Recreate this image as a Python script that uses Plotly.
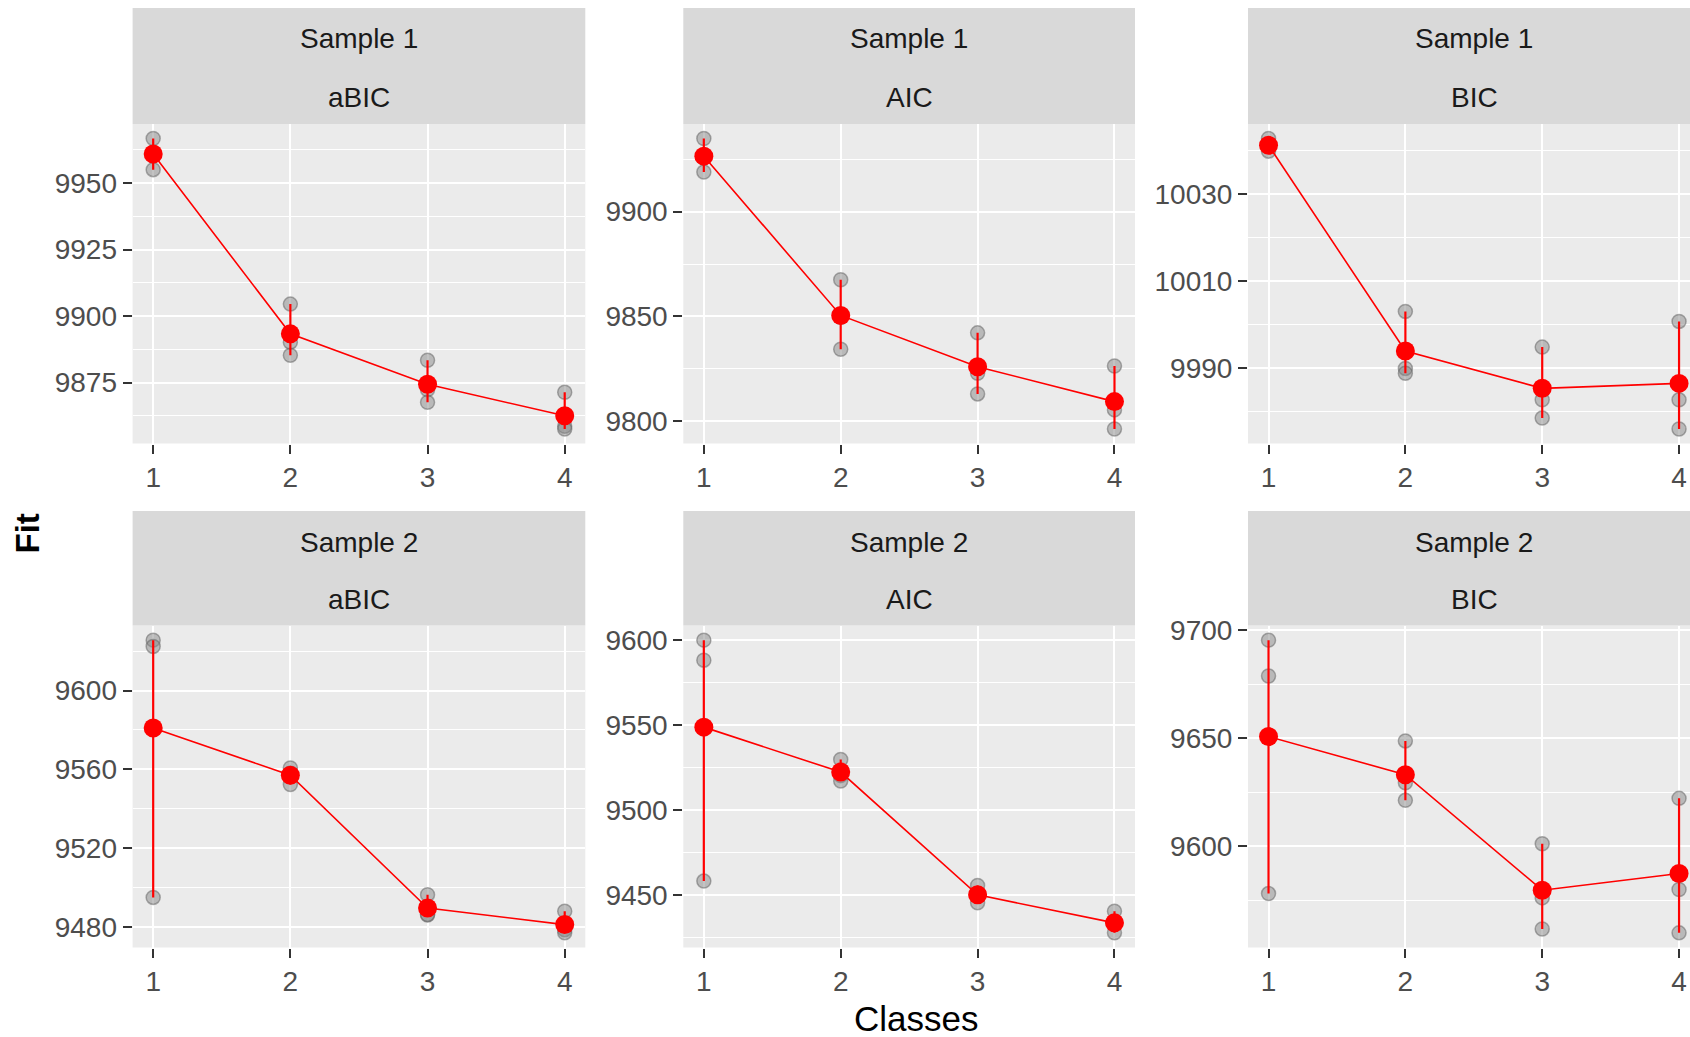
import plotly.graph_objects as go
import numpy as np

# ---------------- data ----------------
classes = [1, 2, 3, 4]
panel_samples = ["Sample 1", "Sample 1", "Sample 1", "Sample 2", "Sample 2", "Sample 2"]
panel_criteria = ["aBIC", "AIC", "BIC", "aBIC", "AIC", "BIC"]

# replicate fit values (3 per class), one list per class
s1_abic = [[9966.7, 9961.0, 9955.0], [9904.5, 9890.2, 9885.3], [9883.4, 9872.3, 9867.6], [9871.4, 9858.6, 9857.6]]
s1_aic = [[9934.8, 9925.6, 9918.8], [9867.5, 9849.6, 9834.4], [9842.2, 9822.9, 9813.1], [9826.4, 9805.5, 9796.4]]
s1_bic = [[10042.8, 10041.0, 10039.9], [10003.1, 9990.0, 9988.9], [9994.9, 9982.8, 9978.6], [10000.8, 9982.8, 9976.1]]
s2_abic = [[9625.6, 9622.4, 9495.0], [9560.7, 9558.0, 9552.3], [9496.4, 9486.3, 9486.1], [9488.0, 9478.6, 9477.0]]
s2_aic = [[9600.0, 9588.2, 9458.1], [9529.7, 9520.2, 9517.0], [9455.5, 9449.2, 9445.3], [9440.4, 9432.5, 9427.6]]
s2_bic = [[9695.4, 9678.8, 9578.0], [9648.7, 9629.3, 9621.2], [9601.1, 9576.0, 9561.6], [9622.1, 9579.9, 9559.8]]

# y-axis breaks per panel
y_tick_start = [9875, 9800, 9990, 9480, 9450, 9600]
y_tick_step = [25, 50, 20, 40, 50, 50]

panels = [s1_abic, s1_aic, s1_bic, s2_abic, s2_aic, s2_bic]

# ---------------- layout geometry ----------------
W, H = 1690, 1037
col_px = [(132.6, 585.3), (683.3, 1135.0), (1248.0, 1690.0)]
col_strip_center_px = [359.0, 909.0, 1474.0]
row_panel_px = [(124.0, 443.5), (625.5, 947.5)]
row_strip_px = [(8.0, 124.0), (511.0, 625.5)]
row_text_px = [(38.8, 98.0), (542.0, 599.0)]
x_ranges = [[0.85, 4.15], [0.85, 4.15], [0.85, 4.08]]

def px_x(v):
    return v / W

def px_y(v):
    return 1 - v / H

FONT = "Liberation Sans, Arial, sans-serif"

fig = go.Figure()
layout = dict(
    width=W, height=H, autosize=False,
    margin=dict(l=0, r=0, t=0, b=0, pad=0, autoexpand=False),
    paper_bgcolor="white",
    plot_bgcolor="#EBEBEB",
    showlegend=False,
    font=dict(family=FONT, color="#4D4D4D"),
    shapes=[], annotations=[],
)

for i, reps in enumerate(panels):
    r, c = divmod(i, 3)
    k = i + 1
    xa = "x" if k == 1 else f"x{k}"
    ya = "y" if k == 1 else f"y{k}"

    # replicate points
    xs = [cl for cl, vals in zip(classes, reps) for _ in vals]
    ys = [v for vals in reps for v in vals]
    fig.add_trace(go.Scatter(
        x=xs, y=ys, mode="markers", xaxis=xa, yaxis=ya,
        marker=dict(size=14, color="rgba(135,135,135,0.5)",
                    line=dict(color="rgba(95,95,95,0.5)", width=1.5)),
        hoverinfo="skip"))

    arr = np.array(reps)
    mean = arr.mean(axis=1)
    vmin = arr.min(axis=1)
    vmax = arr.max(axis=1)

    # mean line + min-max bars + mean points
    fig.add_trace(go.Scatter(
        x=classes, y=mean, mode="lines+markers", xaxis=xa, yaxis=ya,
        line=dict(color="#FF0000", width=1.6),
        marker=dict(size=19, color="#FF0000"),
        error_y=dict(type="data", symmetric=False, array=vmax - mean,
                     arrayminus=mean - vmin, width=0, thickness=2.2,
                     color="#FF0000")))

    lo, hi = arr.min(), arr.max()
    pad = 0.05 * (hi - lo)
    dt = y_tick_step[i]

    x0, x1 = col_px[c]
    p0, p1 = row_panel_px[r]
    layout["xaxis" if k == 1 else f"xaxis{k}"] = dict(
        domain=[px_x(x0), px_x(x1)], anchor=ya, range=x_ranges[c],
        tickvals=classes, ticktext=[str(v) for v in classes], automargin=False,
        showgrid=True, gridcolor="white", gridwidth=2.2, zeroline=False,
        ticks="outside", ticklen=9, tickwidth=2, tickcolor="#333333",
        tickfont=dict(size=28, color="#4D4D4D", family=FONT), showline=False)
    layout["yaxis" if k == 1 else f"yaxis{k}"] = dict(
        domain=[px_y(p1), px_y(p0)], anchor=xa, range=[lo - pad, hi + pad],
        tick0=y_tick_start[i], dtick=dt, tickformat="d", automargin=False,
        showgrid=True, gridcolor="white", gridwidth=2.2, zeroline=False,
        minor=dict(tick0=y_tick_start[i], dtick=dt / 2, showgrid=True,
                   gridcolor="white", gridwidth=1.1, ticks=""),
        ticks="outside", ticklen=9, tickwidth=2, tickcolor="#333333",
        tickfont=dict(size=28, color="#4D4D4D", family=FONT), showline=False)

    # strip
    s0, s1 = row_strip_px[r]
    layout["shapes"].append(dict(
        type="rect", xref="paper", yref="paper",
        x0=px_x(x0), x1=px_x(x1), y0=px_y(s1), y1=px_y(s0),
        fillcolor="#D9D9D9", line=dict(width=0), layer="below"))
    t0, t1 = row_text_px[r]
    for txt, ty in ((panel_samples[i], t0), (panel_criteria[i], t1)):
        layout["annotations"].append(dict(
            text=txt, xref="paper", yref="paper",
            x=px_x(col_strip_center_px[c]), y=px_y(ty),
            xanchor="center", yanchor="middle", showarrow=False,
            font=dict(size=28, color="#1A1A1A", family=FONT)))

# axis titles
layout["annotations"].append(dict(
    text="Classes", xref="paper", yref="paper", x=px_x(916), y=px_y(1018.5),
    xanchor="center", yanchor="middle", showarrow=False,
    font=dict(size=35, color="black", family=FONT)))
layout["annotations"].append(dict(
    text="<b>Fit</b>", xref="paper", yref="paper", x=px_x(27), y=px_y(533.5),
    xanchor="center", yanchor="middle", showarrow=False, textangle=-90,
    font=dict(size=33, color="black", family=FONT)))

fig.update_layout(**layout)
post = ("var s=document.createElement('style');"
        "s.innerHTML='html,body{margin:0!important;padding:0!important;overflow:hidden!important;}';"
        "document.head.appendChild(s);"
        "var d=document.getElementById('{plot_id}');"
        "if(d){d.style.position='fixed';d.style.left='0px';d.style.top='0px';}"
        "window.scrollTo(0,0);")
fig.write_html("out.html", post_script=post,
               config={"displayModeBar": False, "responsive": False})
